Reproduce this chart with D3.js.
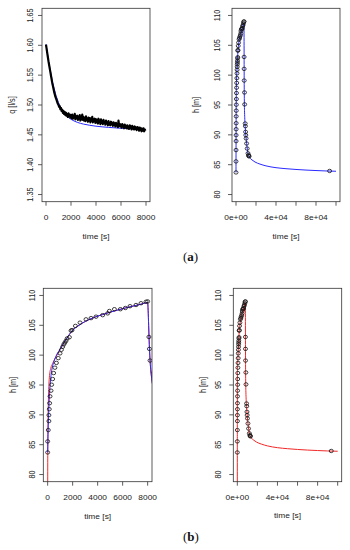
<!DOCTYPE html>
<html>
<head>
<meta charset="utf-8">
<script src="https://cdn.jsdelivr.net/npm/d3@7"></script>
<style>
body{margin:0;background:#fff;}
text{font-family:"Liberation Sans",Arial,sans-serif;fill:#222;}
</style>
</head>
<body>
<div class="main"></div>
<script>
// discharge q [l/s], measured every 50 s
var qStep=50;
var qMeasured=[
1.601,1.594,1.587,1.580,1.573,1.567,1.561,1.555,1.549,1.543,
1.537,1.532,1.527,1.522,1.518,1.514,1.511,1.508,1.505,1.502,
1.500,1.497,1.498,1.493,1.495,1.490,1.492,1.487,1.490,1.485,
1.488,1.483,1.487,1.482,1.485,1.480,1.486,1.481,1.484,1.479,
1.483,1.478,1.484,1.477,1.482,1.479,1.485,1.476,1.481,1.478,
1.482,1.475,1.480,1.477,1.483,1.474,1.479,1.476,1.484,1.475,
1.480,1.474,1.478,1.473,1.481,1.475,1.477,1.472,1.479,1.474,
1.478,1.471,1.477,1.474,1.480,1.471,1.476,1.473,1.477,1.470,
1.476,1.471,1.475,1.469,1.477,1.472,1.474,1.468,1.476,1.470,
1.473,1.468,1.475,1.470,1.472,1.467,1.474,1.469,1.471,1.466,
1.473,1.467,1.470,1.466,1.472,1.468,1.470,1.465,1.471,1.467,
1.469,1.464,1.470,1.466,1.468,1.463,1.474,1.465,1.468,1.464,
1.467,1.462,1.468,1.464,1.466,1.461,1.467,1.463,1.465,1.461,
1.466,1.461,1.464,1.460,1.466,1.462,1.464,1.459,1.465,1.461,
1.463,1.459,1.464,1.460,1.462,1.458,1.463,1.459,1.462,1.457,
1.462,1.458,1.461,1.456,1.460,1.457,1.461,1.456,1.459,1.457];
// fitted discharge
var qModelT=[0,100,200,300,400,500,600,700,800,900,1000,1200,1400,1600,1800,2000,2500,3000,3500,4000,5000,6000,7000,8000];
var qModel=[1.602,1.588,1.575,1.563,1.552,1.541,1.532,1.524,1.516,1.510,1.504,1.495,1.488,1.483,1.479,1.476,1.471,1.468,1.466,1.4645,1.4625,1.461,1.460,1.459];

// observed water level h [m]
var obsT=[0,0,50,100,100,130,160,190,270,320,400,480,580,700,850,990,1100,1200,1290,1380,1470,1560,1740,1870,1950,2220,2590,3070,3470,3870,4400,4800,4940,5340,5820,6220,6590,7070,7470,7870,8000,8100,8140,8190,8500,8650,9200,9400,9600,9800,10100,10600,11200,12000,12500,12800,13100,93600];
var obsH=[83.7,85.55,87.45,88.95,89.95,90.95,91.95,93.1,94.05,95.05,96.0,97.0,97.9,98.7,99.5,100.3,100.9,101.4,101.8,102.1,102.4,102.8,103.0,104.1,104.2,104.9,105.45,106.0,106.2,106.45,106.7,107.0,107.4,107.7,107.7,107.9,108.2,108.4,108.7,108.95,109.0,103.05,101.05,99.1,97.1,95.1,91.9,91.45,90.5,89.95,89.4,88.55,87.7,86.9,86.6,86.45,86.4,83.95];

// model heads (differ at the start)
var blueHeadT=[0,40,80,130,180,240,300,400,550,750];
var blueHeadH=[83.7,87.5,90.2,92.6,94.5,96.0,97.1,98.2,99.2,100.2];
var redHeadT=[0,10,30,60,100,150,250,400,600,800];
var redHeadH=[70,84,89,92.5,95,96.6,97.8,98.6,99.5,100.2];
// shared model tail
var tailT=[1000,1250,1500,1750,2000,2400,2800,3300,3800,4400,5000,5600,6200,6800,7400,8000,8040,8080,8120,8170,8230,8300,8400,8550,8800,9200,9700,10300,11000,11800,12600,14000,16000,19000,24000,30000,40000,50000,60000,70000,80000,90000,100000];
var tailH=[101.0,101.9,102.75,103.5,104.2,104.85,105.4,105.95,106.4,106.8,107.2,107.55,107.9,108.2,108.5,108.8,107.5,105,102.5,100,98,96.5,95.0,93.8,92.6,91.4,90.2,89.1,88.0,87.1,86.55,86.1,85.8,85.45,85.1,84.8,84.5,84.33,84.2,84.1,84.02,83.95,83.9];

var qTicks=[1.35,1.40,1.45,1.50,1.55,1.60,1.65];
var hTicks=[80,85,90,95,100,105,110];
var shortTimeTicks=[0,2000,4000,6000,8000];
var longTimeTicks=[0,20000,40000,60000,80000,100000];
var longTimeLabels=["0e+00","","4e+04","","8e+04",""];

var svg=d3.select('.main').append('svg').attr('width',350).attr('height',550);
var defs=svg.append('defs');

function label(g,x,y,s,rot){
  g.append('g')
    .attr('transform','translate('+x+','+y+') scale(1.15,1)'+(rot?' rotate(-90)':''))
    .append('text')
    .attr('text-anchor','middle')
    .attr('dy','0.35em')
    .style('font-size','7.3px')
    .text(s);
}

function panel(p){
  var x=d3.scaleLinear().domain(p.xDom).range([p.l,p.r]);
  var y=d3.scaleLinear().domain(p.yDom).range([p.b,p.t]);
  defs.append('clipPath').attr('id',p.id).append('rect')
    .attr('x',p.l).attr('y',p.t).attr('width',p.r-p.l).attr('height',p.b-p.t);
  var g=svg.append('g');
  var plot=g.append('g').attr('clip-path','url(#'+p.id+')');
  // ticks
  p.xTicks.forEach(function(d,i){
    g.append('line').attr('x1',x(d)).attr('x2',x(d)).attr('y1',p.b).attr('y2',p.b+4)
      .attr('stroke','#333').attr('stroke-width',0.8);
    var s=p.xLabels?p.xLabels[i]:String(d);
    if(s) label(g,x(d),p.xLabY,s,false);
  });
  p.yTicks.forEach(function(d){
    g.append('line').attr('x1',p.l-4).attr('x2',p.l).attr('y1',y(d)).attr('y2',y(d))
      .attr('stroke','#333').attr('stroke-width',0.8);
    label(g,p.yLabX,y(d),p.yFmt(d),true);
  });
  label(g,(p.l+p.r)/2,p.xTitleY,'time [s]',false);
  label(g,p.yTitleX,(p.t+p.b)/2,p.yTitle,true);
  g.append('rect').attr('x',p.l).attr('y',p.t).attr('width',p.r-p.l).attr('height',p.b-p.t)
    .attr('fill','none').attr('stroke','#333').attr('stroke-width',0.8);
  return {x:x,y:y,plot:plot};
}

function curve(P,ts,vs,color,w){
  var line=d3.line().x(function(d){return P.x(d[0]);}).y(function(d){return P.y(d[1]);})
    .curve(d3.curveMonotoneX);
  P.plot.append('path').datum(d3.zip(ts,vs)).attr('d',line)
    .attr('fill','none').attr('stroke',color).attr('stroke-width',w).attr('stroke-linejoin','round');
}
function circles(P){
  P.plot.selectAll(null).data(d3.zip(obsT,obsH)).enter().append('ellipse')
    .attr('cx',function(d){return P.x(d[0]);}).attr('cy',function(d){return P.y(d[1]);})
    .attr('rx',2.0).attr('ry',1.7)
    .attr('fill','none').attr('stroke','#111').attr('stroke-width',0.8);
}

var hFmt=function(d){return String(d);};
var blueT=blueHeadT.concat(tailT), blueH=blueHeadH.concat(tailH);
var redT=redHeadT.concat(tailT), redH=redHeadH.concat(tailH);

// (a) left
var p1=panel({id:'c1',l:42,r:150,t:8.3,b:201.7,xDom:[-320,8320],yDom:[1.338,1.662],
  xTicks:shortTimeTicks,yTicks:qTicks,yFmt:d3.format('.2f'),yTitle:'q [l/s]',
  yLabX:30,yTitleX:12,xLabY:217,xTitleY:236});
curve(p1,qModelT,qModel,'#2a2aff',1);
var qT=d3.range(qMeasured.length).map(function(i){return i*qStep;});
p1.plot.append('path').datum(d3.zip(qT,qMeasured))
  .attr('d',d3.line().x(function(d){return p1.x(d[0]);}).y(function(d){return p1.y(d[1]);}))
  .attr('fill','none').attr('stroke','#000').attr('stroke-width',2.2).attr('stroke-linejoin','round');

// (a) right
var p2=panel({id:'c2',l:232,r:340,t:8.3,b:201.7,xDom:[-4000,104000],yDom:[78.8,111.2],
  xTicks:longTimeTicks,xLabels:longTimeLabels,yTicks:hTicks,yFmt:hFmt,yTitle:'h [m]',
  yLabX:217,yTitleX:196,xLabY:217,xTitleY:236});
curve(p2,blueT,blueH,'#2a2aff',1);
circles(p2);

// (b) left
var p3=panel({id:'c3',l:43.3,r:152,t:288.3,b:481.7,xDom:[-348,8348],yDom:[78.8,111.2],
  xTicks:shortTimeTicks,yTicks:hTicks,yFmt:hFmt,yTitle:'h [m]',
  yLabX:31.7,yTitleX:13,xLabY:497,xTitleY:516});
curve(p3,redT,redH,'#f02828',1);
curve(p3,blueT,blueH,'#2a2aff',1);
circles(p3);

// (b) right
var p4=panel({id:'c4',l:233.3,r:341.7,t:288.3,b:481.7,xDom:[-4000,104000],yDom:[78.8,111.2],
  xTicks:longTimeTicks,xLabels:longTimeLabels,yTicks:hTicks,yFmt:hFmt,yTitle:'h [m]',
  yLabX:218.3,yTitleX:203.3,xLabY:497,xTitleY:515});
curve(p4,redT,redH,'#f02828',1);
circles(p4);

// captions
[['a',183,261],['b',183,541]].forEach(function(c){
  var t=svg.append('text').attr('x',c[1]).attr('y',c[2])
    .style('font-family','"Liberation Serif","Times New Roman",serif').style('font-size','13px').style('fill','#111');
  t.append('tspan').text('(');
  t.append('tspan').style('font-weight','bold').text(c[0]);
  t.append('tspan').text(')');
});
</script>
</body>
</html>
